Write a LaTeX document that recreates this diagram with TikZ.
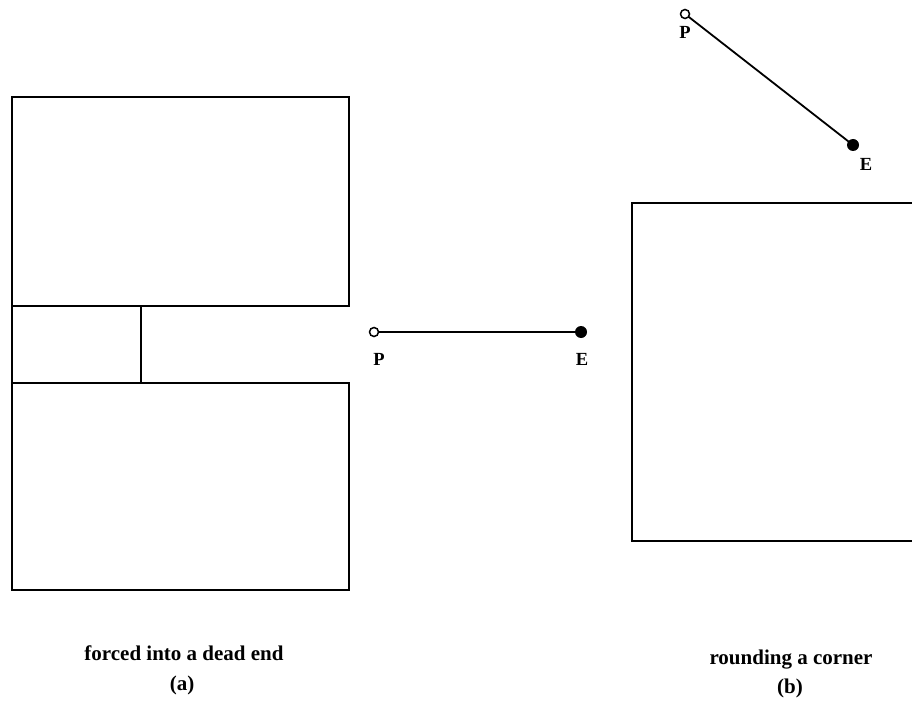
\documentclass[tikz,border=0pt]{standalone}
\usepackage{fontspec}
\setmainfont{Liberation Serif}
\begin{document}
\begin{tikzpicture}[x=1pt,y=-1pt,
  wall/.style={line width=2pt},
  seg/.style={line width=1.8pt},
  pdot/.style={circle,draw,line width=1.5pt,fill=white,inner sep=0pt,minimum size=9pt},
  edot/.style={circle,fill=black,inner sep=0pt,minimum size=12pt},
  lbl/.style={font=\bfseries\fontsize{18.5}{22}\selectfont,inner sep=0pt},
  captxt/.style={font=\bfseries\fontsize{21}{24}\selectfont,inner sep=0pt,anchor=base}]
\useasboundingbox (0,0) rectangle (912,703);
% (a)
\draw[wall] (12,97) rectangle (349,306);
\draw[wall] (12,383) rectangle (349,590);
\draw[wall] (12,306) -- (12,383);
\draw[wall] (141,306) -- (141,383);
\draw[seg] (374,332) -- (581,332);
\node[pdot] (p1) at (374,332) {};
\node[edot] (e1) at (581,332) {};
\node[lbl] (pl1) at (379,359) {P};
\node[lbl] (el1) at (582,359) {E};
\node[captxt] (ca) at (184,660) {forced into a dead end};
\node[captxt] (cal) at (182,690) {(a)};
% (b)
\draw[wall] (912,203) -- (632,203) -- (632,541) -- (912,541);
\draw[seg] (685,14) -- (853,145);
\node[pdot] (p2) at (685,14) {};
\node[edot] (e2) at (853,145) {};
\node[lbl] (pl2) at (685,32) {P};
\node[lbl] (el2) at (866,164) {E};
\node[captxt] (cb) at (791,664) {rounding a corner};
\node[captxt] (cbl) at (790,693) {(b)};
\end{tikzpicture}
\end{document}
